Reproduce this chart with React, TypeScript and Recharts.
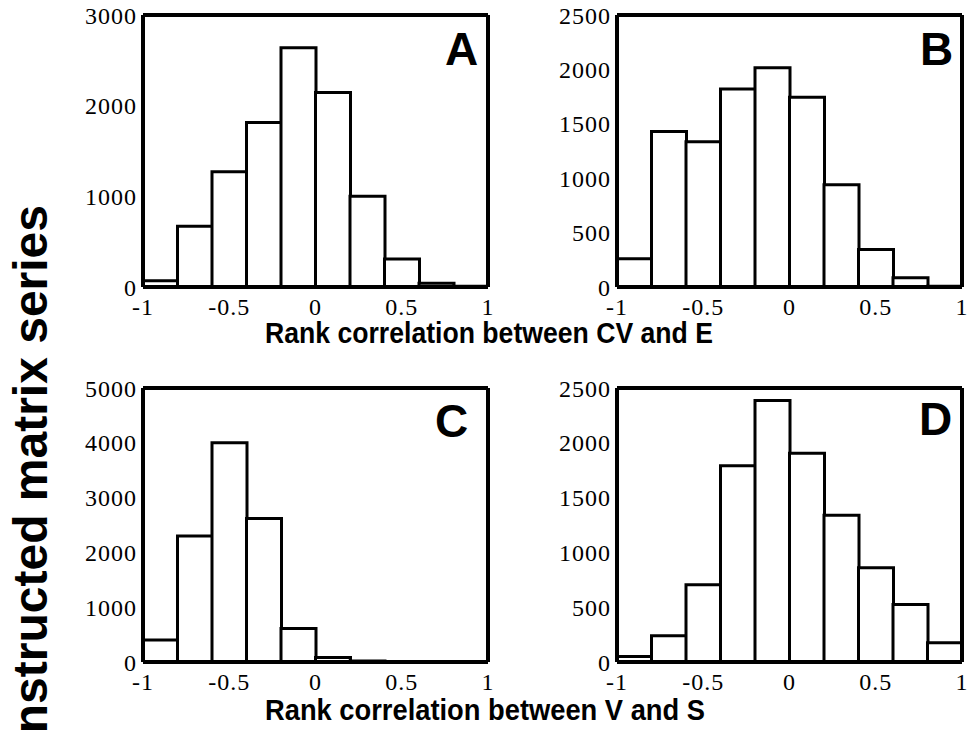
import React from 'react';
import { ComposedChart, Bar, XAxis, YAxis } from 'recharts';

// histogram bins: 10 bins of width 0.2 from -1 to 1 (value = bin centre)
const binCenters = [-0.9, -0.7, -0.5, -0.3, -0.1, 0.1, 0.3, 0.5, 0.7, 0.9];

const countsA = [70, 670, 1270, 1815, 2640, 2145, 1000, 310, 40, 8];
const countsB = [260, 1430, 1335, 1820, 2015, 1745, 940, 345, 85, 8];
const countsC = [400, 2300, 4000, 2620, 610, 80, 20, 5, 3, 2];
const countsD = [50, 240, 705, 1790, 2385, 1905, 1340, 860, 525, 175];

const xTicks = [-1, -0.5, 0, 0.5, 1];
const yTicksA = [0, 1000, 2000, 3000];
const yTicksB = [0, 500, 1000, 1500, 2000, 2500];
const yTicksC = [0, 1000, 2000, 3000, 4000, 5000];
const yTicksD = [0, 500, 1000, 1500, 2000, 2500];

const titleTop = 'Rank correlation between CV and E';
const titleBottom = 'Rank correlation between V and S';
const yLabel = 'Reconstructed matrix series';

const PLOT_W = 345;
const Y_AXIS_W = 100;
const X_AXIS_H = 45;
const PAD_TOP = 15;
const PAD_RIGHT = 15;

const tickFont = {
  fontFamily: '"Liberation Serif", "Times New Roman", serif',
  fontSize: 24,
  fill: '#000',
  letterSpacing: 1,
};

interface PanelProps {
  counts: number[];
  yTicks: number[];
  left: number;
  top: number;
  plotH: number;
}

function Panel({ counts, yTicks, left, top, plotH }: PanelProps) {
  const data = binCenters.map((x, i) => ({ x, count: counts[i] }));
  const yMax = yTicks[yTicks.length - 1];
  const axisLine = { stroke: '#000', strokeWidth: 4 };
  const innerTick = { stroke: '#000', strokeWidth: 2 };
  return (
    <div style={{ position: 'absolute', left: left - Y_AXIS_W, top: top - PAD_TOP }}>
      <ComposedChart
        width={Y_AXIS_W + PLOT_W + PAD_RIGHT}
        height={PAD_TOP + plotH + X_AXIS_H}
        data={data}
        margin={{ top: PAD_TOP, right: PAD_RIGHT, bottom: 0, left: 0 }}
        barCategoryGap={0}
        barGap={0}
      >
        <XAxis
          xAxisId="edges"
          dataKey="x"
          type="number"
          domain={[-1, 1]}
          allowDataOverflow
          padding={{ left: 0, right: 0 }}
          ticks={xTicks}
          height={X_AXIS_H}
          stroke="#000"
          axisLine={axisLine}
          tickLine={false}
          tickSize={0}
          tickMargin={11}
          tick={tickFont}
          interval={0}
        />
        <XAxis
          xAxisId="top"
          orientation="top"
          dataKey="x"
          type="number"
          domain={[-1, 1]}
          allowDataOverflow
          padding={{ left: 0, right: 0 }}
          ticks={xTicks}
          mirror
          height={1}
          stroke="#000"
          axisLine={axisLine}
          tickLine={innerTick}
          tickSize={5}
          tick={false}
        />
        <YAxis
          yAxisId="counts"
          type="number"
          domain={[0, yMax]}
          allowDataOverflow
          ticks={yTicks}
          width={Y_AXIS_W}
          stroke="#000"
          axisLine={axisLine}
          tickLine={false}
          tickSize={0}
          tickMargin={6}
          tick={tickFont}
          interval={0}
        />
        <YAxis
          yAxisId="right"
          orientation="right"
          type="number"
          domain={[0, yMax]}
          allowDataOverflow
          ticks={yTicks}
          mirror
          width={1}
          stroke="#000"
          axisLine={axisLine}
          tickLine={innerTick}
          tickSize={5}
          tick={false}
        />
        <Bar
          xAxisId="edges"
          yAxisId="counts"
          dataKey="count"
          fill="#fff"
          stroke="#000"
          strokeWidth={3}
          isAnimationActive={false}
        />
      </ComposedChart>
    </div>
  );
}

const letterStyle = {
  fontFamily: '"Liberation Sans", Arial, sans-serif',
  fontWeight: 700,
  fontSize: 46,
  fill: '#000',
};

const titleStyle = {
  fontFamily: '"Liberation Sans", Arial, sans-serif',
  fontWeight: 700,
  fontSize: 29,
  fill: '#000',
};

export default function App() {
  return (
    <div
      style={{
        position: 'absolute',
        left: 0,
        top: 0,
        width: 970,
        height: 730,
        overflow: 'hidden',
        background: '#fff',
      }}
    >
      <Panel counts={countsA} yTicks={yTicksA} left={143} top={15} plotH={272} />
      <Panel counts={countsB} yTicks={yTicksB} left={617} top={15} plotH={272} />
      <Panel counts={countsC} yTicks={yTicksC} left={143} top={388} plotH={274} />
      <Panel counts={countsD} yTicks={yTicksD} left={617} top={388} plotH={274} />
      <svg
        width={970}
        height={730}
        style={{ position: 'absolute', left: 0, top: 0, pointerEvents: 'none' }}
      >
        <text x={445} y={65} style={letterStyle}>A</text>
        <text x={920} y={65} style={letterStyle}>B</text>
        <text x={435} y={437} style={letterStyle}>C</text>
        <text x={919} y={435} style={letterStyle}>D</text>
        <text x={265} y={343} style={titleStyle} textLength={448} lengthAdjust="spacingAndGlyphs">
          {titleTop}
        </text>
        <text x={265} y={720} style={titleStyle} textLength={440} lengthAdjust="spacingAndGlyphs">
          {titleBottom}
        </text>
        <text
          transform="translate(47,205) rotate(-90)"
          textAnchor="end"
          style={{ ...titleStyle, fontSize: 48 }}
        >
          {yLabel}
        </text>
      </svg>
    </div>
  );
}
